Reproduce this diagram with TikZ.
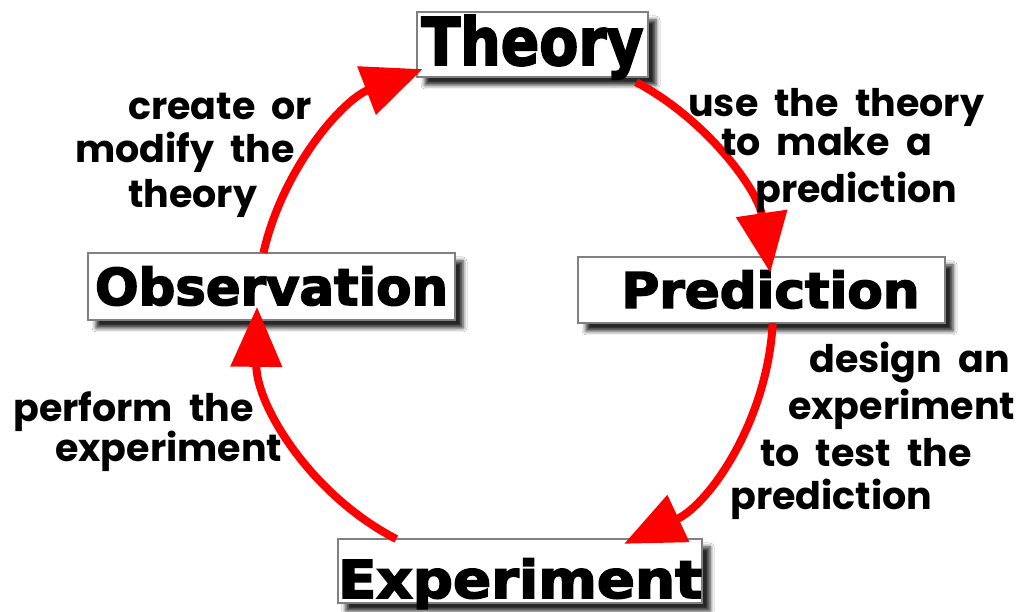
\documentclass[tikz,border=0pt]{standalone}
\usepackage{fontspec}
\setmainfont{DejaVu Sans}[BoldFeatures={FakeBold=3}]
\newfontfamily\labfont{Poppins}[WordSpace=2]
\usetikzlibrary{arrows.meta,shadows.blur,calc}
\tikzset{
  boxnode/.style={draw=black!50, line width=1.2pt, fill=white, inner sep=0pt, text depth=0pt,
    blur shadow={shadow xshift=8pt, shadow yshift=-8pt, shadow blur radius=4pt, shadow opacity=85}},
  lab/.style={anchor=base west, inner sep=0pt, font=\labfont\bfseries\fontsize{38pt}{44pt}\selectfont},
  cyc/.style={draw=red, line width=8pt, -{Triangle[length=60pt,width=50pt]}},
}
\begin{document}
\begin{tikzpicture}[x=1pt,y=1pt]
\useasboundingbox (0,0) rectangle (1018,612);
\fill[white] (0,0) rectangle (1018,612);

% boxes
\node[boxnode, minimum width=231pt, minimum height=65pt, text height=41pt] (theory) at (532.5,567.5)
  {\resizebox{222pt}{50pt}{\bfseries Theory}};
\node[boxnode, minimum width=367pt, minimum height=67pt, text height=37pt] (obs) at (271.5,325.5)
  {\resizebox{353pt}{38.6pt}{\bfseries Observation}};
\node[boxnode, minimum width=367pt, minimum height=66pt, text height=36pt] (pred) at (761.5,322)
  {\hspace*{18pt}\resizebox{298pt}{37.5pt}{\bfseries Prediction}};
\node[boxnode, minimum width=364pt, minimum height=64pt, text height=54pt] (exp) at (520,41)
  {\resizebox{364pt}{39.6pt}{\bfseries Experiment}};

% cycle arrows
\coordinate (c) at (515,302);
\coordinate (s1) at ($(c)+(167.2:258pt)$);
\coordinate (s2) at ($(c)+(62:258pt)$);
\coordinate (s3) at ($(c)+(-2.9:258pt)$);
\coordinate (s4) at ($(c)+(-117.4:258pt)$);
\draw[cyc] (s1) arc[start angle=167.2, end angle=111, radius=258pt];
\draw[cyc] (s2) arc[start angle=62, end angle=8.3, radius=258pt];
\draw[cyc] (s3) arc[start angle=-2.9, end angle=-65, radius=258pt];
\draw[cyc] (s4) arc[start angle=-117.4, end angle=-180.7, radius=258pt];

% labels
\node[lab] (c1) at (128,492) {create or};
\node[lab] (c2) at (75,449) {modify the};
\node[lab] (c3) at (128,404) {theory};
\node[lab] (u1) at (688,495) {use the theory};
\node[lab] (u2) at (721,456) {to make a};
\node[lab] (u3) at (755,409) {prediction};
\node[lab] (d1) at (809,239) {design an};
\node[lab] (d2) at (788,192) {experiment};
\node[lab] (d3) at (760,145) {to test the};
\node[lab] (d4) at (730,102) {prediction};
\node[lab] (p1) at (13,190) {perform the};
\node[lab] (p2) at (55,150) {experiment};
\end{tikzpicture}
\end{document}
